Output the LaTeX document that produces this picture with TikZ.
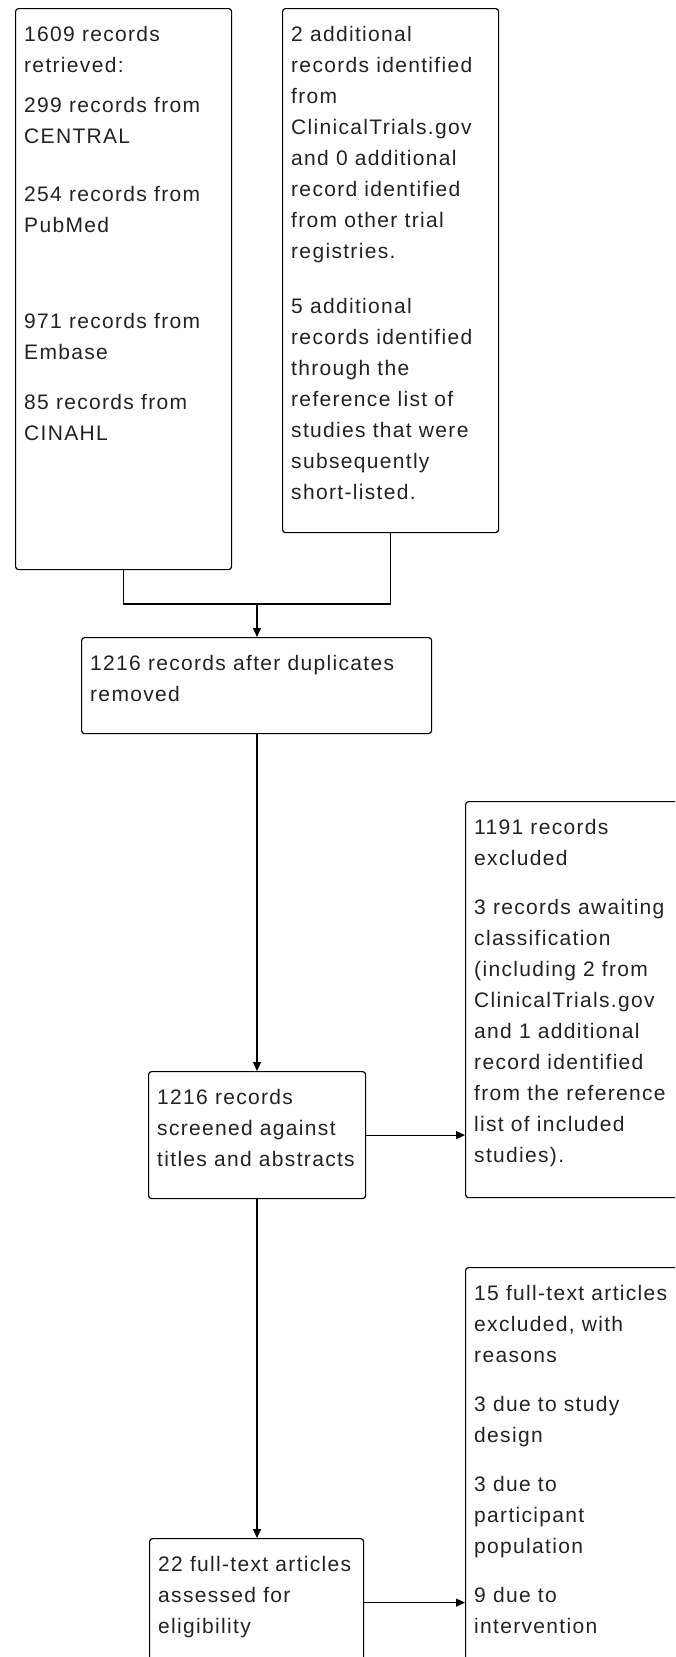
\documentclass[tikz,border=0pt]{standalone}
\usepackage{fontspec}
\setmainfont{Liberation Sans}[LetterSpace=6.3]
\usetikzlibrary{arrows.meta}
\definecolor{ink}{HTML}{222222}
\newcommand{\bodyfont}{\fontsize{21pt}{31pt}\selectfont}
\newcommand{\boxlines}[1]{\parbox[t]{450pt}{\bodyfont\raggedright #1}}
\tikzset{
  box/.style={draw=black, rounded corners=3pt, line width=1.2pt, inner sep=0pt, anchor=north west},
  txt/.style={anchor=base west, inner sep=0pt, text=ink},
  link/.style={draw=black, line width=1.2pt},
  arr/.style={link, -{Triangle[length=9pt,width=8pt]}}
}
\begin{document}
\begin{tikzpicture}[x=1pt,y=-1pt]
\clip (0,0) rectangle (675,1657);
\fill[white] (0,0) rectangle (675,1657);
% boxes
\node[box, minimum width=216pt, minimum height=561pt] (A) at (15,8) {};
\node[box, minimum width=216pt, minimum height=524pt] (B) at (282,8) {};
\node[box, minimum width=350pt, minimum height=96pt] (C) at (81,637) {};
\node[box, minimum width=217pt, minimum height=127pt] (D) at (148,1071) {};
\node[box, minimum width=240pt, minimum height=396pt] (E) at (465,801) {};
\node[box, minimum width=214pt, minimum height=128pt] (F) at (149,1538) {};
\node[box, minimum width=240pt, minimum height=430pt] (G) at (465,1267) {};
% texts
\node[txt] (tA) at (24,41) {\boxlines{1609 records\\retrieved:\\[9pt]299 records from\\CENTRAL\\[27pt]254 records from\\PubMed\\[65pt]971 records from\\Embase\\[19pt]85 records from\\CINAHL}};
\node[txt] (tB) at (291,41) {\boxlines{2 additional\\records identified\\from\\ClinicalTrials.gov\\and 0 additional\\record identified\\from other trial\\registries.\\[24pt]5 additional\\records identified\\through the\\reference list of\\studies that were\\subsequently\\short-listed.}};
\node[txt] (tC) at (90,670) {\boxlines{1216 records after duplicates\\removed}};
\node[txt] (tD) at (157,1104) {\boxlines{1216 records\\screened against\\titles and abstracts}};
\node[txt] (tE) at (474,834) {\boxlines{1191 records\\excluded\\[18pt]3 records awaiting\\classification\\(including 2 from\\ClinicalTrials.gov\\and 1 additional\\record identified\\from the reference\\list of included\\studies).}};
\node[txt] (tF) at (158,1571) {\boxlines{22 full-text articles\\assessed for\\eligibility}};
\node[txt] (tG) at (474,1300) {\boxlines{15 full-text articles\\excluded, with\\reasons\\[18pt]3 due to study\\design\\[18pt]3 due to\\participant\\population\\[18pt]9 due to\\intervention}};
% connectors
\coordinate (j) at (257,604);
\draw[link] (A.south) |- (j) -| (B.south);
\draw[arr] (j) -- (j |- C.north);
\draw[arr] (C.south -| j) -- (D.north -| j);
\draw[arr] (D.south -| j) -- (F.north -| j);
\draw[arr] (D.east) -- (D.east -| E.west);
\draw[arr] (F.east) -- (F.east -| G.west);
\end{tikzpicture}
\end{document}
